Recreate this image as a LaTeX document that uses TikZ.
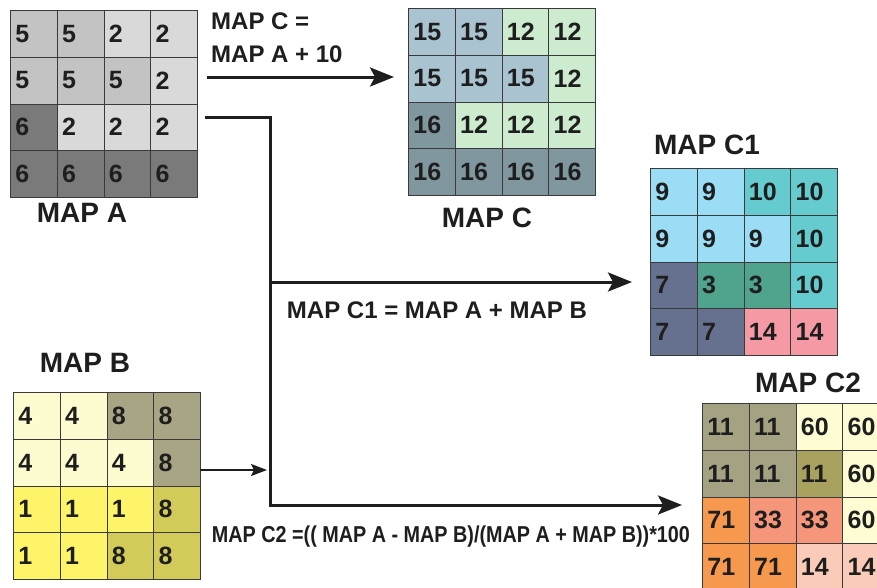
\documentclass[tikz,border=0pt]{standalone}
\usepackage{fontspec}
\setmainfont{Liberation Sans}
\usetikzlibrary{arrows.meta}
\definecolor{gridline}{HTML}{3A3A3A}
\definecolor{txt}{HTML}{1E1E1E}
% MAP A
\definecolor{aFive}{HTML}{C3C3C3}
\definecolor{aTwo}{HTML}{D9D9D9}
\definecolor{aSix}{HTML}{7A7A7A}
% MAP C
\definecolor{cFifteen}{HTML}{AAC3D1}
\definecolor{cTwelve}{HTML}{CDEBCF}
\definecolor{cSixteen}{HTML}{81979F}
% MAP C1
\definecolor{dNine}{HTML}{9BDDF5}
\definecolor{dTen}{HTML}{66CBCF}
\definecolor{dSeven}{HTML}{65718F}
\definecolor{dThree}{HTML}{50A38C}
\definecolor{dFourteen}{HTML}{F59AA5}
% MAP B
\definecolor{bFour}{HTML}{FDFBD0}
\definecolor{bEightG}{HTML}{A8A585}
\definecolor{bOne}{HTML}{FDF46A}
\definecolor{bEightY}{HTML}{D2CB5A}
% MAP C2
\definecolor{eEleven}{HTML}{A5A283}
\definecolor{eElevenD}{HTML}{A8A25E}
\definecolor{eSixty}{HTML}{FDFCD3}
\definecolor{eSeventy}{HTML}{F6994E}
\definecolor{eThirty}{HTML}{F5957A}
\definecolor{eFourteen}{HTML}{F9CBB8}
\newcommand\mkgrid[4]{%
  \foreach \col/\val [count=\k from 0] in {#4} {
    \pgfmathtruncatemacro\rr{div(\k,4)}
    \pgfmathtruncatemacro\cc{mod(\k,4)}
    \node[cell, fill=\col] (#1-\rr-\cc) at ({#2+\cc*46.75},{#3+\rr*46.75}) {\val};
  }}
\begin{document}
\begin{tikzpicture}[x=1pt,y=-1pt,
  cell/.style={draw=gridline, line width=0.7pt, anchor=north west,
    minimum height=46.75pt, text width=36.75pt, inner xsep=5pt, inner ysep=0pt,
    align=left, text=txt, font=\fontsize{25}{25}\selectfont\bfseries},
  title/.style={text=txt, inner sep=0pt, font=\fontsize{28}{28}\selectfont\bfseries},
  formula/.style={text=txt, inner sep=0pt, font=\fontsize{24}{28}\selectfont\bfseries},
  bigarrow/.style={line width=3pt, draw=txt, -{Stealth[length=24pt,width=19pt,inset=5pt]}},
  smallarrow/.style={line width=1.6pt, draw=txt, -{Stealth[length=16pt,width=12pt,inset=3pt]}}]
\useasboundingbox (0,0) rectangle (877,587);
\clip (0,0) rectangle (877,587);
\fill[white] (0,0) rectangle (877,587);

% MAP A
\mkgrid{A}{10}{10}{aFive/5,aFive/5,aTwo/2,aTwo/2,
  aFive/5,aFive/5,aFive/5,aTwo/2,
  aSix/6,aTwo/2,aTwo/2,aTwo/2,
  aSix/6,aSix/6,aSix/6,aSix/6}
\node[title] (tA) at (82,213) {MAP A};

% MAP C
\mkgrid{C}{408}{8}{cFifteen/15,cFifteen/15,cTwelve/12,cTwelve/12,
  cFifteen/15,cFifteen/15,cFifteen/15,cTwelve/12,
  cSixteen/16,cTwelve/12,cTwelve/12,cTwelve/12,
  cSixteen/16,cSixteen/16,cSixteen/16,cSixteen/16}
\node[title] (tC) at (487,218) {MAP C};

% MAP C1
\mkgrid{D}{650}{168}{dNine/9,dNine/9,dTen/10,dTen/10,
  dNine/9,dNine/9,dNine/9,dTen/10,
  dSeven/7,dThree/3,dThree/3,dTen/10,
  dSeven/7,dSeven/7,dFourteen/14,dFourteen/14}
\node[title] (tD) at (707,145) {MAP C1};

% MAP B
\mkgrid{B}{13}{392}{bFour/4,bFour/4,bEightG/8,bEightG/8,
  bFour/4,bFour/4,bFour/4,bEightG/8,
  bOne/1,bOne/1,bOne/1,bEightY/8,
  bOne/1,bOne/1,bEightY/8,bEightY/8}
\node[title] (tB) at (85,363) {MAP B};

% MAP C2
\mkgrid{E}{702}{403}{eEleven/11,eEleven/11,eSixty/60,eSixty/60,
  eEleven/11,eEleven/11,eElevenD/11,eSixty/60,
  eSeventy/71,eThirty/33,eThirty/33,eSixty/60,
  eSeventy/71,eSeventy/71,eFourteen/14,eFourteen/14}
\node[title] (tE) at (808,383) {MAP C2};

% formulas
\node[formula, anchor=north west, align=left] (fC) at (211,13) {MAP C =\\[5pt]MAP A + 10};
\node[formula] (fD) at (437,310) {MAP C1 = MAP A + MAP B};
\node[formula, font=\fontsize{23}{28}\selectfont\bfseries] (fE) at (451,537) {\scalebox{0.86}[1]{MAP C2 =(( MAP A - MAP B)/(MAP A + MAP B))*100}};

% connectors
\coordinate (pCs) at (207,77);
\coordinate (pCe) at (394,77);
\coordinate (pLs) at (205,117);
\coordinate (pLc) at (270,117);
\coordinate (pLb) at (270,505);
\coordinate (pLe) at (682,505);
\coordinate (pDs) at (270,282);
\coordinate (pDe) at (632,282);
\coordinate (pBs) at (200,470);
\coordinate (pBe) at (267,470);

\draw[bigarrow] (pCs) -- (pCe);
\draw[bigarrow] (pLs) -- (pLc) -- (pLb) -- (pLe);
\draw[bigarrow] (pDs) -- (pDe);
\draw[smallarrow] (pBs) -- (pBe);
\end{tikzpicture}
\end{document}
